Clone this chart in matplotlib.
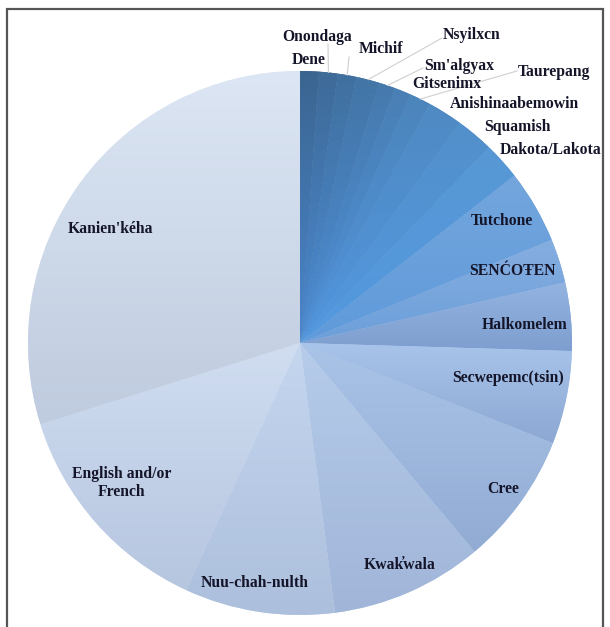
import numpy as np
import matplotlib
matplotlib.use("Agg")
import matplotlib.pyplot as plt
from matplotlib.colors import to_rgb
from matplotlib.patches import Rectangle

# ---- data (clockwise from 12 o'clock) ----
languages = ["Dene", "Onondaga", "Michif", "Nsyilxcn", "Sm'algyax", "Gitsenimx",
             "Taurepang", "Anishinaabemowin", "Squamish", "Dakota/Lakota",
             "Tutchone", "SENĆOŦEN", "Halkomelem", "Secwepemc(tsin)", "Cree",
             "Kwak\u0313wala", "Nuu-chah-nulth", "English and/or\nFrench", "Kanien'kéha"]
shares = [4, 4, 4, 5, 3.5, 3.5, 4.5, 7.5, 8, 8,
          15.7, 9.4, 14.6, 19.9, 28.5, 32.5, 32.2, 47.8, 107.4]

# ---- styles ----
top_colors = ["#3B6591", "#3E6A98", "#40709F", "#4375A6", "#467AAD", "#497FB4",
              "#4C85BB", "#4F8AC3", "#5290CB", "#5797D4",
              "#74A6DD", "#86AEE0", "#93B4E1", "#A8C4EA", "#AAC4E8",
              "#B6CCEA", "#C5D6EF", "#D0DDF1", "#DCE6F4"]
bottom_colors = ["#4A86CC", "#4B89D0", "#4C8BD3", "#4D8DD5", "#4E8FD8", "#4F91DA",
                 "#5093DC", "#5195DD", "#5297DE", "#5499DF",
                 "#5F9ADA", "#6C9FDA", "#7E9ECF", "#8CA8D3", "#91ABD3",
                 "#A0B5D8", "#ACBFDC", "#B6C6DF", "#BFCBDE"]

W, H = 610, 627
CX, CY, R = 300, H - 343, 272

# label centres (pixel coords from top-left) and leader-line start points
label_pos = {
    "Dene": (309, 60), "Onondaga": (317, 37), "Michif": (381, 49),
    "Nsyilxcn": (472, 35), "Sm'algyax": (459, 66), "Gitsenimx": (447, 84),
    "Taurepang": (554, 72), "Anishinaabemowin": (514, 104), "Squamish": (517, 127),
    "Dakota/Lakota": (551, 150), "Tutchone": (502, 221), "SENĆOŦEN": (512, 271),
    "Halkomelem": (525, 325), "Secwepemc(tsin)": (508, 378), "Cree": (503, 489),
    "Kwak\u0313wala": (400, 565), "Nuu-chah-nulth": (255, 583),
    "English and/or\nFrench": (122, 483), "Kanien'kéha": (110, 229),
}
leader_start = {
    "Onondaga": (328, 44), "Michif": (349, 57), "Nsyilxcn": (442, 38),
    "Sm'algyax": (423, 68), "Taurepang": (517, 71),
}

plt.rcParams["font.family"] = ["Liberation Serif", "DejaVu Serif"]

fig = plt.figure(figsize=(W / 100, H / 100), dpi=100)
ax = fig.add_axes([0, 0, 1, 1])

wedges, _ = ax.pie(shares, colors=top_colors, startangle=90, counterclock=False,
                   center=(CX, CY), radius=R, wedgeprops=dict(linewidth=0))

# vertical gradient inside each wedge
t = np.linspace(0, 1, 128)[:, None]
for w, ct, cb in zip(wedges, top_colors, bottom_colors):
    bb = w.get_path().get_extents()
    a, b = np.array(to_rgb(cb)), np.array(to_rgb(ct))
    grad = (a * (1 - t) + b * t)[:, None, :]
    im = ax.imshow(grad, extent=[bb.x0, bb.x1, bb.y0, bb.y1], origin="lower",
                   aspect="auto", interpolation="bilinear", zorder=w.get_zorder() + 0.1)
    im.set_clip_path(w)

# slice mid-angles for leader lines
total = float(np.sum(shares))
cum = np.cumsum([0] + shares)
mids = {lang: 90 - 360 * (cum[i] + shares[i] / 2) / total for i, lang in enumerate(languages)}

for lang, (sx, sy) in leader_start.items():
    th = np.deg2rad(mids[lang])
    ex, ey = CX + R * np.cos(th), CY + R * np.sin(th)
    ax.plot([sx, ex], [H - sy, ey], color="#cfcfcf", lw=0.8, zorder=5)

for lang in languages:
    x, y = label_pos[lang]
    ax.text(x, H - y, lang, ha="center", va="center", fontsize=11.3,
            fontweight="bold", color="#15152a", multialignment="center",
            linespacing=1.2, zorder=6)

ax.add_patch(Rectangle((7, -30), 596, (H - 9) + 30, fill=False,
                       edgecolor="#555555", lw=1.6, clip_on=False, zorder=7))

ax.set_xlim(0, W)
ax.set_ylim(0, H)
ax.set_aspect("auto")
ax.axis("off")

fig.savefig("out.png", dpi=100)
